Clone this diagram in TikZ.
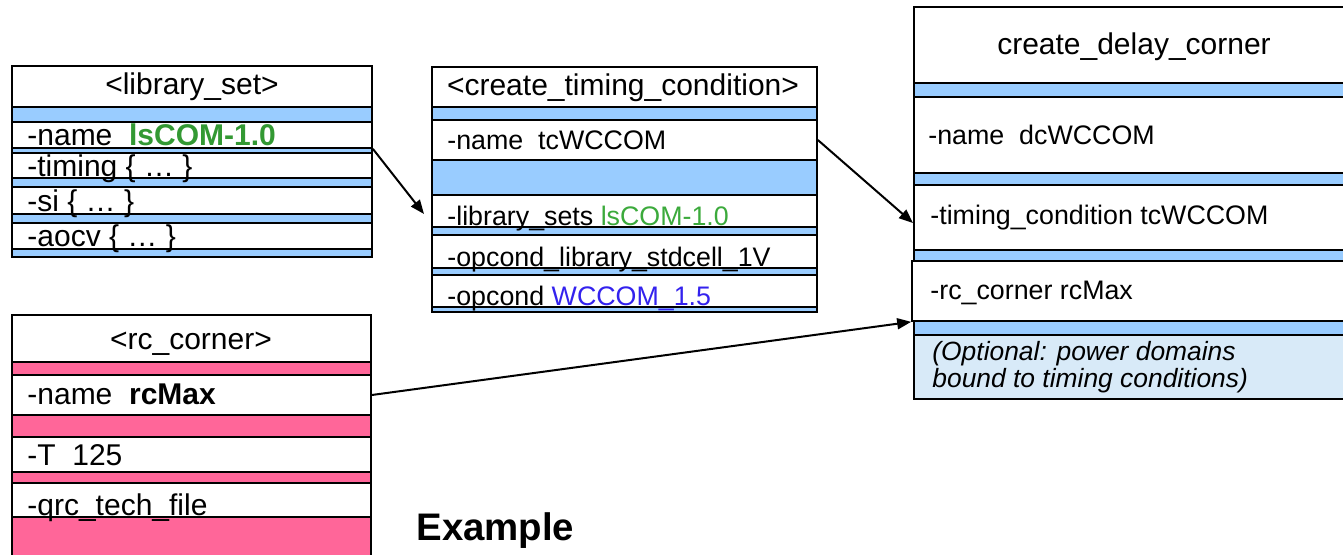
\documentclass[tikz,border=0pt]{standalone}
\usepackage{fontspec}
\setmainfont{Liberation Sans}
\usetikzlibrary{fit,arrows.meta}
\definecolor{barblue}{HTML}{99CCFF}
\definecolor{barpink}{HTML}{FF6699}
\definecolor{optblue}{HTML}{D8EAF8}
\definecolor{grnA}{HTML}{339933}
\definecolor{grnB}{HTML}{3CAA3C}
\definecolor{blu}{HTML}{3322EE}
\tikzset{
  cellbox/.style={draw=black, line width=0.85pt, fill=white, inner sep=0pt},
  bluebar/.style={cellbox, fill=barblue},
  pinkbar/.style={cellbox, fill=barpink},
  optcell/.style={cellbox, fill=optblue},
  ttl/.style={inner sep=0pt, anchor=base, font=\fontsize{15}{18}\selectfont},
  rowA/.style={inner sep=0pt, anchor=base west, font=\fontsize{15}{18}\selectfont},
  rowB/.style={inner sep=0pt, anchor=base west, font=\fontsize{13.4}{16}\selectfont},
  opttxt/.style={inner sep=0pt, anchor=base west, font=\itshape\fontsize{13.2}{16}\selectfont},
  conn/.style={line width=1pt, -{Triangle[length=7pt,width=5.5pt]}}
}
\begin{document}
\begin{tikzpicture}[x=0.5pt,y=-0.5pt]
\useasboundingbox (0,0) rectangle (1343,555);
% ---------- box 1: library_set
\node[cellbox, fit={(12,66) (372,107)}] (b1title) {};
\node[bluebar, fit={(12,107) (372,122)}] (b1bar1) {};
\node[cellbox, fit={(12,122) (372,148)}] (b1name) {};
\node[bluebar, fit={(12,148) (372,153)}] (b1bar2) {};
\node[cellbox, fit={(12,153) (372,178)}] (b1tim) {};
\node[bluebar, fit={(12,178) (372,187)}] (b1bar3) {};
\node[cellbox, fit={(12,187) (372,214)}] (b1si) {};
\node[bluebar, fit={(12,214) (372,223)}] (b1bar4) {};
\node[cellbox, fit={(12,223) (372,249)}] (b1aocv) {};
\node[bluebar, fit={(12,249) (372,257)}] (b1bar5) {};
\node[ttl] (t1title) at (192,95) {<library\_set>};
\node[rowA] (t1name) at (27,146) {-name\ \ \textcolor{grnA}{\bfseries lsCOM-1.0}};
\node[rowA] (t1tim) at (27,177) {-timing \{ … \}};
\node[rowA] (t1si) at (27,212) {-si \{ … \}};
\node[rowA] (t1aocv) at (27,247) {-aocv \{ … \}};
% ---------- box 2: create_timing_condition
\node[cellbox, fit={(432,67) (817,107)}] (b2title) {};
\node[bluebar, fit={(432,107) (817,120)}] (b2bar1) {};
\node[cellbox, fit={(432,120) (817,160)}] (b2name) {};
\node[bluebar, fit={(432,160) (817,195)}] (b2bar2) {};
\node[cellbox, fit={(432,195) (817,227)}] (b2lib) {};
\node[bluebar, fit={(432,227) (817,235)}] (b2bar3) {};
\node[cellbox, fit={(432,235) (817,268)}] (b2opl) {};
\node[bluebar, fit={(432,268) (817,275)}] (b2bar4) {};
\node[cellbox, fit={(432,275) (817,307)}] (b2opc) {};
\node[bluebar, fit={(432,307) (817,312)}] (b2bar5) {};
\node[ttl] (t2title) at (623,96) {<create\_timing\_condition>};
\node[rowB] (t2name) at (447,150) {-name\ \ tcWCCOM};
\node[rowB] (t2lib) at (447,225.5) {-library\_sets \textcolor{grnB}{lsCOM-1.0}};
\node[rowB] (t2opl) at (447,266.5) {-opcond\_library\_stdcell\_1V};
\node[rowB] (t2opc) at (447,305.5) {-opcond \textcolor{blu}{WCCOM\_1.5}};
% ---------- box 3: create_delay_corner
\node[cellbox, fit={(914,7) (1354,83)}] (b3title) {};
\node[bluebar, fit={(914,83) (1354,97)}] (b3bar1) {};
\node[cellbox, fit={(914,97) (1354,173)}] (b3name) {};
\node[bluebar, fit={(914,173) (1354,185)}] (b3bar2) {};
\node[cellbox, fit={(914,185) (1354,250)}] (b3tim) {};
\node[bluebar, fit={(914,250) (1354,261)}] (b3bar3) {};
\node[cellbox, fit={(912,261) (1354,321)}] (b3rc) {};
\node[bluebar, fit={(914,321) (1354,335)}] (b3bar4) {};
\node[optcell, fit={(914,335) (1354,399)}] (b3opt) {};
\node[ttl] (t3title) at (1134,55) {create\_delay\_corner};
\node[rowB] (t3name) at (928,145) {-name\ \ dcWCCOM};
\node[rowB] (t3tim) at (930,225) {-timing\_condition tcWCCOM};
\node[rowB] (t3rc) at (930,300) {-rc\_corner rcMax};
\node[opttxt] (t3opt1) at (932,361) {(Optional: power domains};
\node[opttxt] (t3opt2) at (932,387) {bound to timing conditions)};
% ---------- box 5: rc_corner
\node[cellbox, fit={(12,315) (371,362)}] (b5title) {};
\node[pinkbar, fit={(12,362) (371,375)}] (b5bar1) {};
\node[cellbox, fit={(12,375) (371,415)}] (b5name) {};
\node[pinkbar, fit={(12,415) (371,437)}] (b5bar2) {};
\node[cellbox, fit={(12,437) (371,472)}] (b5T) {};
\node[pinkbar, fit={(12,472) (371,483)}] (b5bar3) {};
\node[cellbox, fit={(12,483) (371,517)}] (b5qrc) {};
\node[pinkbar, fit={(12,517) (371,565)}] (b5bar4) {};
\node[ttl] (t5title) at (191,350) {<rc\_corner>};
\node[rowA] (t5name) at (27,405) {-name\ \ \textbf{rcMax}};
\node[rowA] (t5T) at (27,465) {-T\ \ 125};
\node[rowA] (t5qrc) at (27,515) {-qrc\_tech\_file};
% ---------- caption
\node[inner sep=0pt, anchor=base west, font=\bfseries\fontsize{19.2}{23}\selectfont] (example) at (416,540) {Example};
% ---------- connectors
\coordinate (a1end) at (424,214);
\coordinate (a2end) at (913,223);
\draw[conn] (b1name.south east) -- (a1end);
\draw[conn] (b2name.east) -- (a2end);
\draw[conn] (b5name.east) -- (b3rc.south west);
\end{tikzpicture}
\end{document}
